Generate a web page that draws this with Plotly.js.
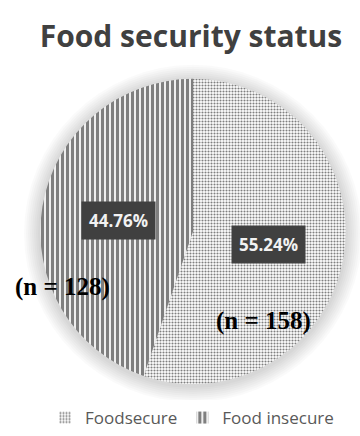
<!DOCTYPE html>
<html>
<head>
<meta charset="utf-8">
<script src="https://cdn.plot.ly/plotly-3.0.1.min.js"></script>
<style>html,body{margin:0;padding:0;background:#fff;}#chart{width:360px;height:436px;}</style>
</head>
<body>
<div id="chart"></div>
<script>
const categories = ["Foodsecure", "Food insecure"];
const counts = [158, 128];
const patternShapes = [".", "|"];

const W = 360, H = 436;
const cx = 193, cy = 232, R = 153;
const px = x => x / W;
const py = y => 1 - y / H;

const total = counts.reduce((a, b) => a + b, 0);
const pct = counts.map(v => (100 * v / total).toFixed(2) + "%");

const trace = {
  type: "pie",
  labels: categories,
  values: counts,
  sort: false,
  direction: "clockwise",
  rotation: 0,
  textinfo: "none",
  hoverinfo: "none",
  domain: {x: [px(cx - R), px(cx + R)], y: [py(cy + R), py(cy - R)]},
  marker: {
    colors: ["#ffffff", "#ffffff"],
    line: {width: 0, color: "#ffffff"},
    pattern: {
      shape: patternShapes,
      fgcolor: "#000000",
      bgcolor: "#ffffff",
      size: [3, 5],
      solidity: [0.4, 0.65],
      fillmode: "overlay"
    }
  }
};

const shapes = [];
for (let i = 0; i < 8; i++) {
  const r = R + 2 + i * 2;
  shapes.push({
    type: "circle", xref: "paper", yref: "paper", layer: "below",
    x0: px(cx - r), x1: px(cx + r), y0: py(cy + 2 + r), y1: py(cy + 2 - r),
    fillcolor: "rgba(0,0,0,0.018)", line: {width: 0}
  });
}

const annotations = [
  {text: pct[1], x: px(118), y: py(221)},
  {text: pct[0], x: px(268), y: py(245)}
].map(a => Object.assign({
  xref: "paper", yref: "paper", showarrow: false, xanchor: "center", yanchor: "middle",
  bgcolor: "#404040", borderpad: 7,
  font: {family: "Open Sans", size: 17, color: "#f2f2f2", weight: "bold"}
}, a));

annotations.push(
  {text: "(n = " + counts[1] + ")", x: px(62), y: py(288)},
  {text: "(n = " + counts[0] + ")", x: px(263), y: py(322)}
);
for (let i = 2; i < 4; i++) {
  Object.assign(annotations[i], {
    xref: "paper", yref: "paper", showarrow: false, xanchor: "center", yanchor: "middle",
    font: {family: "Liberation Serif", size: 25, color: "#000000", weight: "bold"}
  });
}

const layout = {
  width: W, height: H,
  margin: {l: 0, r: 0, t: 0, b: 0},
  paper_bgcolor: "#ffffff",
  title: {
    text: "Food security status",
    x: px(191), xanchor: "center",
    y: py(36), yanchor: "middle",
    font: {family: "Open Sans", size: 30, color: "#404040", weight: "bold"}
  },
  showlegend: true,
  legend: {
    orientation: "h",
    x: px(192), xanchor: "center",
    y: py(419), yanchor: "middle",
    font: {family: "Open Sans", size: 17, color: "#595959"},
    itemwidth: 30
  },
  shapes: shapes,
  annotations: annotations
};

Plotly.newPlot("chart", [trace], layout, {displayModeBar: false, staticPlot: true});
</script>
</body>
</html>
